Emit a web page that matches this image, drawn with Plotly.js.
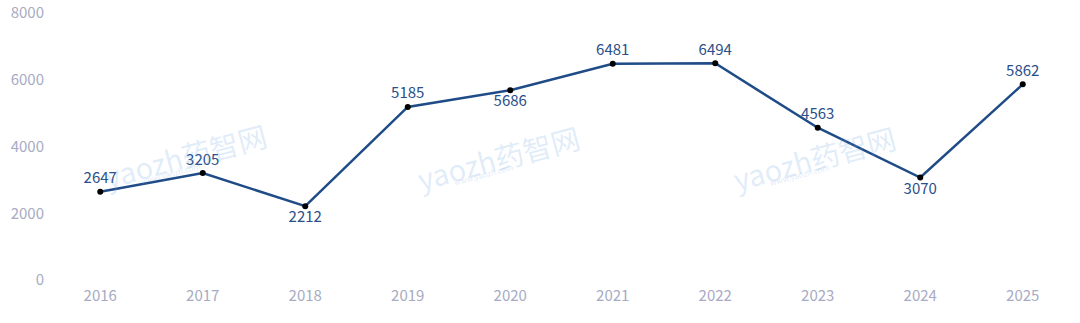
<!DOCTYPE html>
<html><head><meta charset="utf-8">
<script src="https://cdn.plot.ly/plotly-3.0.1.min.js"></script>
<style>html,body{margin:0;padding:0;background:#fff;}#c{width:1080px;height:323px;}</style>
</head><body><div id="c"></div>
<script>
const years = ['2016','2017','2018','2019','2020','2021','2022','2023','2024','2025'];
const values = [2647, 3205, 2212, 5185, 5686, 6481, 6494, 4563, 3070, 5862];
const labelPos = ['top center','top center','bottom center','top center','bottom center','top center','top center','top center','bottom center','top center'];
const yTicks = [0, 2000, 4000, 6000, 8000];

const FONT = 'Noto Sans CJK SC, Noto Sans, sans-serif';
const trace = {
  x: years, y: values, type: 'scatter', mode: 'lines+markers+text',
  text: values.map(String), textposition: labelPos,
  textfont: {family: FONT, size: 15, color: '#2a4f8a'},
  line: {color: '#1f4b87', width: 2.5},
  marker: {color: '#000', size: 6},
  cliponaxis: false, hoverinfo: 'none'
};
const plotH = 267;
const wmPos = [[185,155],[498,157],[815,157]];
const toPx = p => ({x:(p[0]-48.7)/1025.6, y:(280-p[1])/plotH});
const wm = [];
wmPos.forEach(p => {
  const a = toPx(p);
  wm.push({xref:'paper', yref:'paper', x:a.x, y:a.y, xanchor:'center', yanchor:'middle',
    text:'yaozh药智网', showarrow:false, textangle:-15,
    font:{family:FONT, size:29, color:'rgba(120,170,230,0.22)'}});
  const b = toPx([p[0]-15, p[1]+18]);
  wm.push({xref:'paper', yref:'paper', x:b.x, y:b.y, xanchor:'center', yanchor:'middle',
    text:'www.yaozh.com', showarrow:false, textangle:-15,
    font:{family:FONT, size:8, color:'rgba(120,170,230,0.25)'}});
});
const layout = {
  width:1080, height:323, margin:{l:48.7, r:5.7, t:13, b:43},
  paper_bgcolor:'#fff', plot_bgcolor:'#fff', showlegend:false,
  font:{family:FONT},
  xaxis:{type:'category', range:[-0.5,9.5], showgrid:false, zeroline:false, showline:false,
    ticks:'outside', ticklen:2, tickcolor:'rgba(0,0,0,0)',
    tickfont:{family:FONT, size:15, color:'#a7abc3'}},
  yaxis:{range:[0,8000], tickvals:yTicks, ticktext:yTicks.map(String), showgrid:false, zeroline:false, showline:false,
    ticks:'outside', ticklen:1, tickcolor:'rgba(0,0,0,0)',
    tickfont:{family:FONT, size:15, color:'#a7abc3'}},
  annotations: wm
};
Plotly.newPlot('c',[trace],layout,{displayModeBar:false,staticPlot:true});
</script></body></html>
